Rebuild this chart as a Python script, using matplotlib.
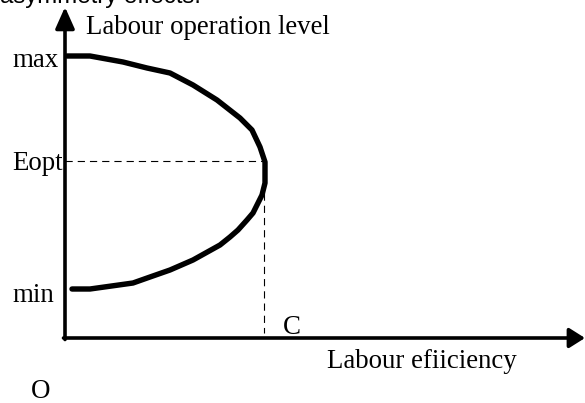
import matplotlib
matplotlib.use("Agg")
import matplotlib.pyplot as plt

# ---- data (efficiency, operation level) ----
efficiency = [2, 25, 58, 82, 105, 128, 152, 175, 187, 195, 200, 200, 197,
              188, 182, 173, 165, 155, 128, 105, 85, 68, 25, 7]
level = [282, 282, 276, 270, 265, 253, 238, 220, 208, 191, 176, 155, 143,
         125, 118, 108, 101, 93, 78, 68, 61, 55, 49, 49]
level_labels = ["max", "Eopt", "min"]
level_values = [282, 177, 49]
eopt_level = 177
c_efficiency = 199
c_label = "C"
x_label = "Labour efiiciency"
y_label = "Labour operation level"
origin_label = "O"
top_caption = "asymmetry effects."

W, H = 585, 403
fig = plt.figure(figsize=(W / 100, H / 100), dpi=100)
ax = fig.add_axes([0, 0, 1, 1])
ax.set_xlim(-65, W - 65)
ax.set_ylim(-65, H - 65)
ax.axis("off")

serif = "Liberation Serif"
fs = 19.4

# axes with arrows
ax.annotate("", xy=(W - 65, 0), xytext=(-1.5, 0),
            arrowprops=dict(arrowstyle="-|>,head_length=0.95,head_width=0.6",
                            lw=2.6, color="black", mutation_scale=10,
                            shrinkA=0, shrinkB=0))
ax.annotate("", xy=(0, 331), xytext=(0, -1.5),
            arrowprops=dict(arrowstyle="-|>,head_length=1.3,head_width=0.58",
                            lw=2.6, color="black", mutation_scale=10,
                            shrinkA=0, shrinkB=0))

# curve
ax.plot(efficiency, level, color="black", lw=3.9, solid_capstyle="round",
        solid_joinstyle="round")

# dashed guides
ax.plot([0, c_efficiency + 1], [eopt_level, eopt_level], color="black",
        lw=0.8, linestyle=(0, (6.5, 4.5)))
ax.plot([c_efficiency, c_efficiency], [145, 5], color="black",
        lw=0.8, linestyle=(0, (6.5, 4.5)))

# level labels
label_y = {"max": 271, "Eopt": 168, "min": 36}
for lab, val in zip(level_labels, level_values):
    ax.text(-53, label_y[lab], lab, fontsize=fs, family=serif,
            ha="left", va="baseline")

ax.text(218, 4, c_label, fontsize=fs, family=serif, ha="left", va="baseline")
ax.text(262, -30, x_label, fontsize=fs, family=serif, ha="left", va="baseline")
ax.text(21, 304, y_label, fontsize=fs, family=serif, ha="left", va="baseline")
ax.text(-34, -60, origin_label, fontsize=fs, family=serif, ha="left",
        va="baseline")
ax.text(-65, 335, top_caption, fontsize=17.3, family="Liberation Sans",
        ha="left", va="baseline")

fig.savefig("out.png", dpi=100)
